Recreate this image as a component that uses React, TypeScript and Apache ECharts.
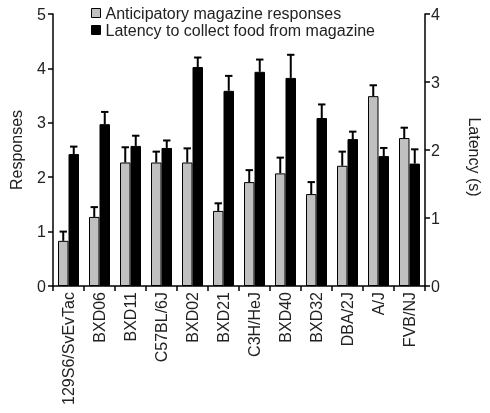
import React, { useEffect, useRef } from "react";
import * as echarts from "echarts";

const categories = ["129S6/SvEvTac", "BXD06", "BXD11", "C57BL/6J", "BXD02", "BXD21", "C3H/HeJ", "BXD40", "BXD32", "DBA/2J", "A/J", "FVB/NJ"];
const responses = [0.83, 1.27, 2.27, 2.27, 2.27, 1.38, 1.91, 2.07, 1.69, 2.21, 3.49, 2.72];
const responsesErr = [0.17, 0.18, 0.28, 0.2, 0.26, 0.14, 0.22, 0.29, 0.22, 0.26, 0.2, 0.19];
const latency = [1.94, 2.38, 2.06, 2.03, 3.22, 2.87, 3.15, 3.06, 2.47, 2.16, 1.91, 1.8];
const latencyErr = [0.11, 0.18, 0.15, 0.11, 0.14, 0.22, 0.18, 0.34, 0.2, 0.11, 0.12, 0.21];
const leftTicks = [0, 1, 2, 3, 4, 5];
const rightTicks = [0, 1, 2, 3, 4];
const seriesNames = ["Anticipatory magazine responses", "Latency to collect food from magazine"];

const FONT = "Liberation Sans";
const BAR_W = 10.5;

function errSeries(name: string, vals: number[], errs: number[], yIdx: number, offset: number) {
  return {
    type: "custom",
    name,
    yAxisIndex: yIdx,
    z: 5,
    data: vals.map((v, i) => [i, v, errs[i]]),
    encode: { x: 0, y: 1 },
    renderItem: (params: any, api: any) => {
      const i = api.value(0);
      const v = api.value(1);
      const e = api.value(2);
      const base = api.coord([i, v]);
      const top = api.coord([i, v + e]);
      const x = base[0] + offset;
      return {
        type: "group",
        children: [
          { type: "line", shape: { x1: x, y1: base[1], x2: x, y2: top[1] }, style: { stroke: "#000", lineWidth: 2 } },
          { type: "line", shape: { x1: x - 3.7, y1: top[1], x2: x + 3.7, y2: top[1] }, style: { stroke: "#000", lineWidth: 2 } },
        ],
      };
    },
  };
}

export default function App() {
  const ref = useRef<HTMLDivElement>(null);
  useEffect(() => {
    if (!ref.current) return;
    const chart = echarts.init(ref.current, null, { renderer: "svg" });
    const axisLine = { show: true, lineStyle: { color: "#000", width: 1.5 } };
    chart.setOption({
      animation: false,
      textStyle: { fontFamily: FONT },
      grid: { left: 52, right: 48, top: 14, bottom: 127 },
      legend: {
        orient: "vertical",
        left: 91,
        top: 5,
        padding: 0,
        itemWidth: 9,
        itemHeight: 9,
        itemGap: 1,
        textStyle: { fontFamily: FONT, fontSize: 16, color: "#222", lineHeight: 16 },
        data: [
          { name: seriesNames[0], icon: "rect", itemStyle: { color: "#c0c0c0", borderColor: "#000", borderWidth: 1 } },
          { name: seriesNames[1], icon: "rect", itemStyle: { color: "#000", borderColor: "#000", borderWidth: 1 } },
        ],
      },
      xAxis: {
        type: "category",
        data: categories,
        axisLine,
        axisTick: { show: true, length: 5, lineStyle: { color: "#000", width: 1.5 } },
        axisLabel: { rotate: 90, margin: 6, fontSize: 16, color: "#222", fontFamily: FONT, interval: 0 },
      },
      yAxis: [
        {
          type: "value",
          min: 0,
          max: leftTicks[leftTicks.length - 1],
          interval: 1,
          position: "left",
          name: "Responses",
          nameLocation: "middle",
          nameRotate: 90,
          nameGap: 29,
          nameTextStyle: { fontSize: 16, color: "#222", fontFamily: FONT },
          axisLine,
          axisTick: { show: true, length: 5, lineStyle: { color: "#000", width: 1.5 } },
          axisLabel: { margin: 7, fontSize: 16, color: "#222", fontFamily: FONT },
          splitLine: { show: false },
        },
        {
          type: "value",
          min: 0,
          max: rightTicks[rightTicks.length - 1],
          interval: 1,
          position: "right",
          name: "Latency (s)",
          nameLocation: "middle",
          nameRotate: -90,
          nameGap: 41,
          nameTextStyle: { fontSize: 16, color: "#222", fontFamily: FONT, padding: [0, 0, 0, 14] },
          axisLine,
          axisTick: { show: true, length: 5, lineStyle: { color: "#000", width: 1.5 } },
          axisLabel: { margin: 6, fontSize: 16, color: "#222", fontFamily: FONT },
          splitLine: { show: false },
        },
      ],
      series: [
        {
          type: "bar",
          name: seriesNames[0],
          yAxisIndex: 0,
          data: responses,
          barWidth: BAR_W,
          barGap: "0%",
          itemStyle: { color: "#c0c0c0", borderColor: "#000", borderWidth: 1 },
        },
        {
          type: "bar",
          name: seriesNames[1],
          yAxisIndex: 1,
          data: latency,
          barWidth: BAR_W,
          barGap: "0%",
          itemStyle: { color: "#000", borderColor: "#000", borderWidth: 1 },
        },
        errSeries("respErr", responses, responsesErr, 0, -BAR_W / 2),
        errSeries("latErr", latency, latencyErr, 1, BAR_W / 2),
      ],
    });
    return () => chart.dispose();
  }, []);
  return <div ref={ref} style={{ position: "fixed", left: 0, top: 0, width: 490, height: 413 }} />;
}
